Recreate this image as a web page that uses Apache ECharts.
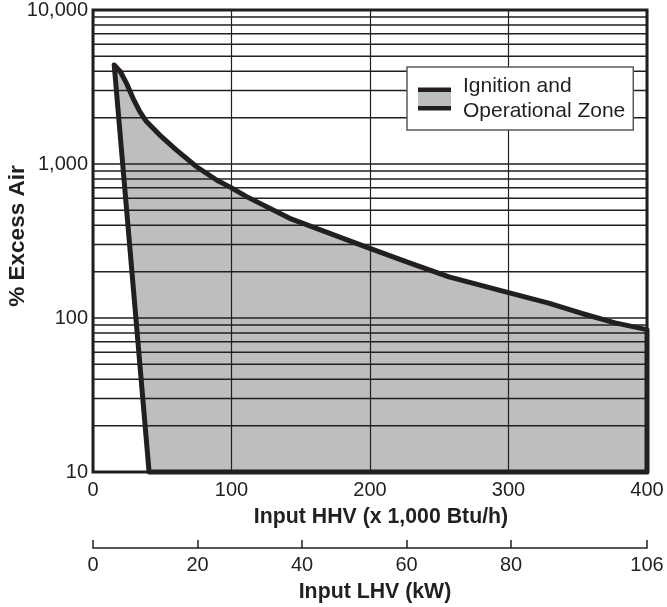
<!DOCTYPE html>
<html><head><meta charset="utf-8">
<script src="https://cdn.jsdelivr.net/npm/echarts@6/dist/echarts.min.js"></script>
<style>html,body{margin:0;padding:0;background:#fff}#c{width:667px;height:607px}</style>
</head><body><div id="c"></div>
<script>
// ---- data ----
const hhvTicks = [0, 100, 200, 300, 400];
const lhvTicks = [0, 20, 40, 60, 80, 106];
const airTicks = [10, 100, 1000, 10000];
const minorAir = [20, 30, 40, 50, 60, 70, 80, 90,
                  200, 300, 400, 500, 600, 700, 800, 900,
                  2000, 3000, 4000, 5000, 6000, 7000, 8000, 9000];
// boundary of the Ignition and Operational Zone (HHV x1000 Btu/h, % excess air)
const zoneHHV = [40.5, 15.3, 19.8, 24.2, 28.9, 33.8, 38.6, 48.2, 60.3, 74.8, 89.2, 100, 110.9, 142, 197, 226, 257, 300, 329, 353, 377, 400, 400];
const zoneAir = [10, 4400, 3970, 3340, 2670, 2190, 1885, 1540, 1230, 960, 787, 700, 614, 444, 290, 232, 185, 146, 125, 107, 93, 84, 10];
const zoneName = 'Ignition and\nOperational Zone';

const FONT = '"Liberation Sans", Arial, Helvetica, sans-serif';
const INK = '#231f20';
const FILL = '#bcbec0';
const zonePoints = zoneHHV.map((x, i) => [x, zoneAir[i]]);

const chart = echarts.init(document.getElementById('c'), null, {renderer: 'canvas'});
chart.setOption({
  animation: false,
  grid: {left: 93, right: 20, top: 10, bottom: 135, show: true, outerBoundsMode: 'none',
         containLabel: false,
         borderColor: INK, borderWidth: 3, backgroundColor: 'transparent'},
  legend: {
    left: 407, top: 67, orient: 'vertical',
    backgroundColor: '#fff', borderColor: '#58595b', borderWidth: 1.5,
    padding: [7, 8, 6, 11], borderRadius: 0,
    itemWidth: 33, itemHeight: 23, selectedMode: false,
    textStyle: {fontFamily: FONT, fontSize: 21, lineHeight: 25, color: INK, padding: [0, 0, 0, 7]},
    data: [{
      name: zoneName, icon: 'rect',
      itemStyle: {
        borderWidth: 0,
        color: {type: 'linear', x: 0, y: 0, x2: 0, y2: 1, colorStops: [
          {offset: 0, color: INK}, {offset: 0.2, color: INK},
          {offset: 0.2, color: FILL}, {offset: 0.8, color: FILL},
          {offset: 0.8, color: INK}, {offset: 1, color: INK}]}
      }
    }]
  },
  xAxis: [{
    type: 'value', min: 0, max: 400, interval: 100, z: 2,
    axisLine: {show: false}, axisTick: {show: false},
    axisLabel: {fontFamily: FONT, fontSize: 20, color: INK, margin: 8, customValues: hhvTicks},
    splitLine: {show: true, lineStyle: {color: INK, width: 1.2}},
    name: 'Input HHV (x 1,000 Btu/h)', nameLocation: 'middle', nameGap: 35, nameMoveOverlap: false,
    nameTextStyle: {fontFamily: FONT, fontSize: 21.3, fontWeight: 'bold', color: INK, padding: [0, 0, 0, 22]}
  }, {
    type: 'value', min: 0, max: 106, position: 'bottom', offset: 76, gridIndex: 0,
    axisLine: {show: true, lineStyle: {color: INK, width: 1.5}},
    axisTick: {show: true, inside: true, length: 8, lineStyle: {color: INK, width: 1.5}, customValues: lhvTicks},
    axisLabel: {fontFamily: FONT, fontSize: 20, color: INK, margin: 7, customValues: lhvTicks},
    splitLine: {show: false},
    name: 'Input LHV (kW)', nameLocation: 'middle', nameGap: 34, nameMoveOverlap: false,
    nameTextStyle: {fontFamily: FONT, fontSize: 21.3, fontWeight: 'bold', color: INK, padding: [0, 0, 0, 10]}
  }],
  yAxis: {
    type: 'log', logBase: 10, min: 10, max: 10000, z: 2,
    axisLine: {show: false}, axisTick: {show: false},
    axisLabel: {fontFamily: FONT, fontSize: 20, color: INK, margin: 5,
                formatter: v => Number(v).toLocaleString('en-US')},
    splitLine: {show: true, lineStyle: {color: INK, width: 1.5}},
    name: '% Excess Air', nameLocation: 'middle', nameGap: 64, nameRotate: 90, nameMoveOverlap: false,
    nameTextStyle: {fontFamily: FONT, fontSize: 22.5, fontWeight: 'bold', color: INK, padding: [0, 0, 0, 10]}
  },
  series: [{
    name: zoneName, type: 'custom', z: 1, silent: true, clip: false,
    xAxisIndex: 0, yAxisIndex: 0,
    itemStyle: {color: FILL},
    data: [zonePoints[0]],
    renderItem: (params, api) => ({
      type: 'polygon',
      shape: {points: zonePoints.map(p => api.coord(p))},
      style: {fill: FILL, stroke: null}
    })
  }, {
    type: 'custom', z: 2, silent: true, xAxisIndex: 0, yAxisIndex: 0,
    data: minorAir.map(v => [0, v]),
    renderItem: (params, api) => {
      const a = api.coord([0, api.value(1)]);
      const b = api.coord([400, api.value(1)]);
      return {type: 'line', shape: {x1: a[0], y1: a[1], x2: b[0], y2: b[1]},
              style: {stroke: INK, lineWidth: 1.5}};
    }
  }, {
    type: 'custom', z: 3, silent: true, clip: false, xAxisIndex: 0, yAxisIndex: 0,
    data: [zonePoints[0]],
    renderItem: (params, api) => ({
      type: 'polygon',
      shape: {points: zonePoints.map(p => api.coord(p))},
      style: {fill: null, stroke: INK, lineWidth: 5, lineJoin: 'round'}
    })
  }]
});
</script></body></html>
